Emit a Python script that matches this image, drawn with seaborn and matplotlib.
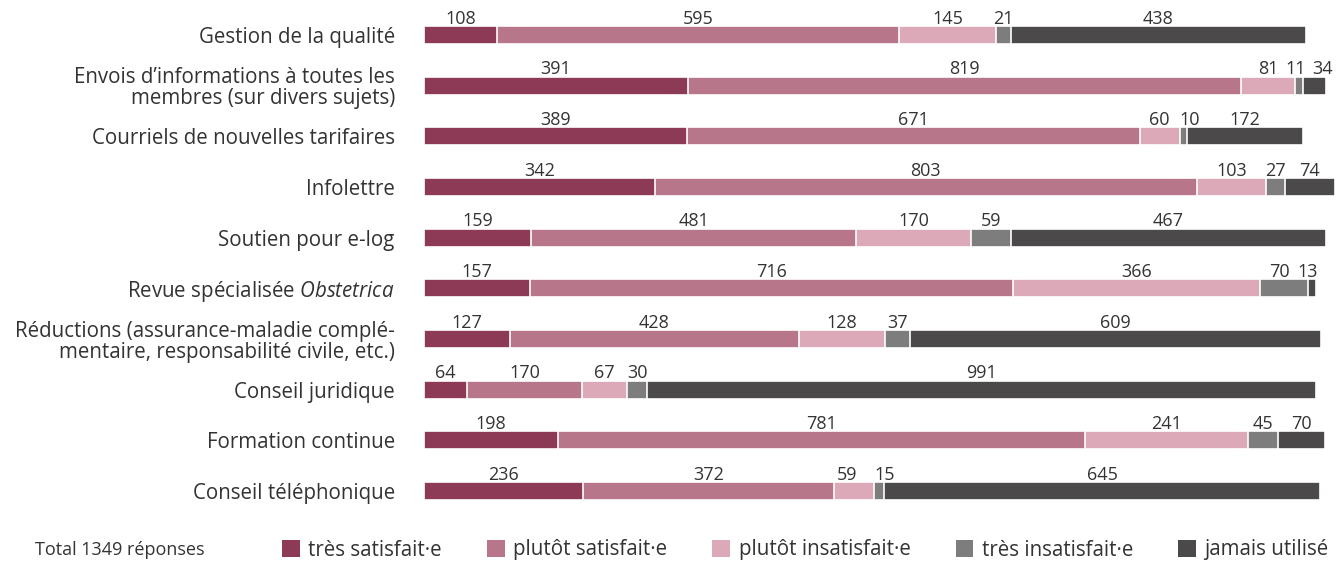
import numpy as np
import pandas as pd
import seaborn as sns
import matplotlib.pyplot as plt
from matplotlib.patches import Patch

# categories (top to bottom)
categories = [
    "Gestion de la qualité",
    "Envois d’informations à toutes les\nmembres (sur divers sujets)",
    "Courriels de nouvelles tarifaires",
    "Infolettre",
    "Soutien pour e-log",
    "Revue spécialisée $\\it{Obstetrica}$",
    "Réductions (assurance-maladie complé-\nmentaire, responsabilité civile, etc.)",
    "Conseil juridique",
    "Formation continue",
    "Conseil téléphonique",
]

tres_satisfait = [108, 391, 389, 342, 159, 157, 127, 64, 198, 236]
plutot_satisfait = [595, 819, 671, 803, 481, 716, 428, 170, 781, 372]
plutot_insatisfait = [145, 81, 60, 103, 170, 366, 128, 67, 241, 59]
tres_insatisfait = [21, 11, 10, 27, 59, 70, 37, 30, 45, 15]
jamais_utilise = [438, 34, 172, 74, 467, 13, 609, 991, 70, 645]

series_names = ["très satisfait·e", "plutôt satisfait·e", "plutôt insatisfait·e",
                "très insatisfait·e", "jamais utilisé"]
colors = ["#8c3a55", "#b7768a", "#dba9b7", "#7d7d7d", "#4b4949"]
total_text = "Total 1349 réponses"

sns.set_theme(style="white")
plt.rcParams['font.family'] = ['Open Sans', 'DejaVu Sans']
plt.rcParams['mathtext.fontset'] = 'custom'
plt.rcParams['mathtext.it'] = 'Open Sans:italic'
plt.rcParams['mathtext.rm'] = 'Open Sans'
text_color = "#333333"

values = np.array([tres_satisfait, plutot_satisfait, plutot_insatisfait,
                   tres_insatisfait, jamais_utilise])
cum = np.cumsum(values, axis=0)
left = cum - values

fig = plt.figure(figsize=(13.39, 5.62), dpi=100)
px_per_unit = 0.675
ax = fig.add_axes([424 / 1339, 46 / 562, 1349 * px_per_unit / 1339, 506 / 562])

bar_h = 0.36
# layered cumulative bars: longest first, then shorter on top
for k in range(len(series_names) - 1, -1, -1):
    df = pd.DataFrame({"cat": categories, "val": cum[k]})
    sns.barplot(data=df, x="val", y="cat", orient="h", color=colors[k],
                width=bar_h, edgecolor="white", linewidth=1.2,
                saturation=1, ax=ax)

# small horizontal nudges (pixels) for crowded labels: (series, row) -> px
nudges = {(3, 1): -3, (4, 1): 8, (3, 2): 6, (3, 5): -5, (4, 5): -4,
          (2, 9): -7, (3, 9): 5}

for k in range(len(series_names)):
    for i in range(len(categories)):
        x = left[k, i] + values[k, i] / 2 + nudges.get((k, i), 0) / px_per_unit
        ax.text(x, i - bar_h / 2 - 0.045, str(values[k, i]),
                ha="center", va="baseline", fontsize=13, color=text_color)

ax.set_xlim(0, 1349)
ax.set_ylim(9.493, -0.493)
ax.set_xlabel("")
ax.set_ylabel("")
ax.set_xticks([])
ax.tick_params(axis="y", length=0, pad=21, labelsize=14.8, labelcolor=text_color)
for lab in ax.get_yticklabels():
    lab.set_linespacing(1.0)
sns.despine(ax=ax, left=True, bottom=True)

handles = [Patch(facecolor=c, edgecolor="none") for c in colors]
fig.legend(handles, series_names, loc="center left", ncol=5,
           bbox_to_anchor=(282 / 1339, 1 - 550 / 562), frameon=False,
           fontsize=14.8, handlelength=0.87, handleheight=0.87,
           handletextpad=0.4, columnspacing=2.2, labelcolor=text_color,
           borderaxespad=0, borderpad=0)
fig.text(35 / 1339, 1 - 550 / 562, total_text, ha="left", va="center",
         fontsize=13, color=text_color)

fig.savefig("out.png", dpi=100)
